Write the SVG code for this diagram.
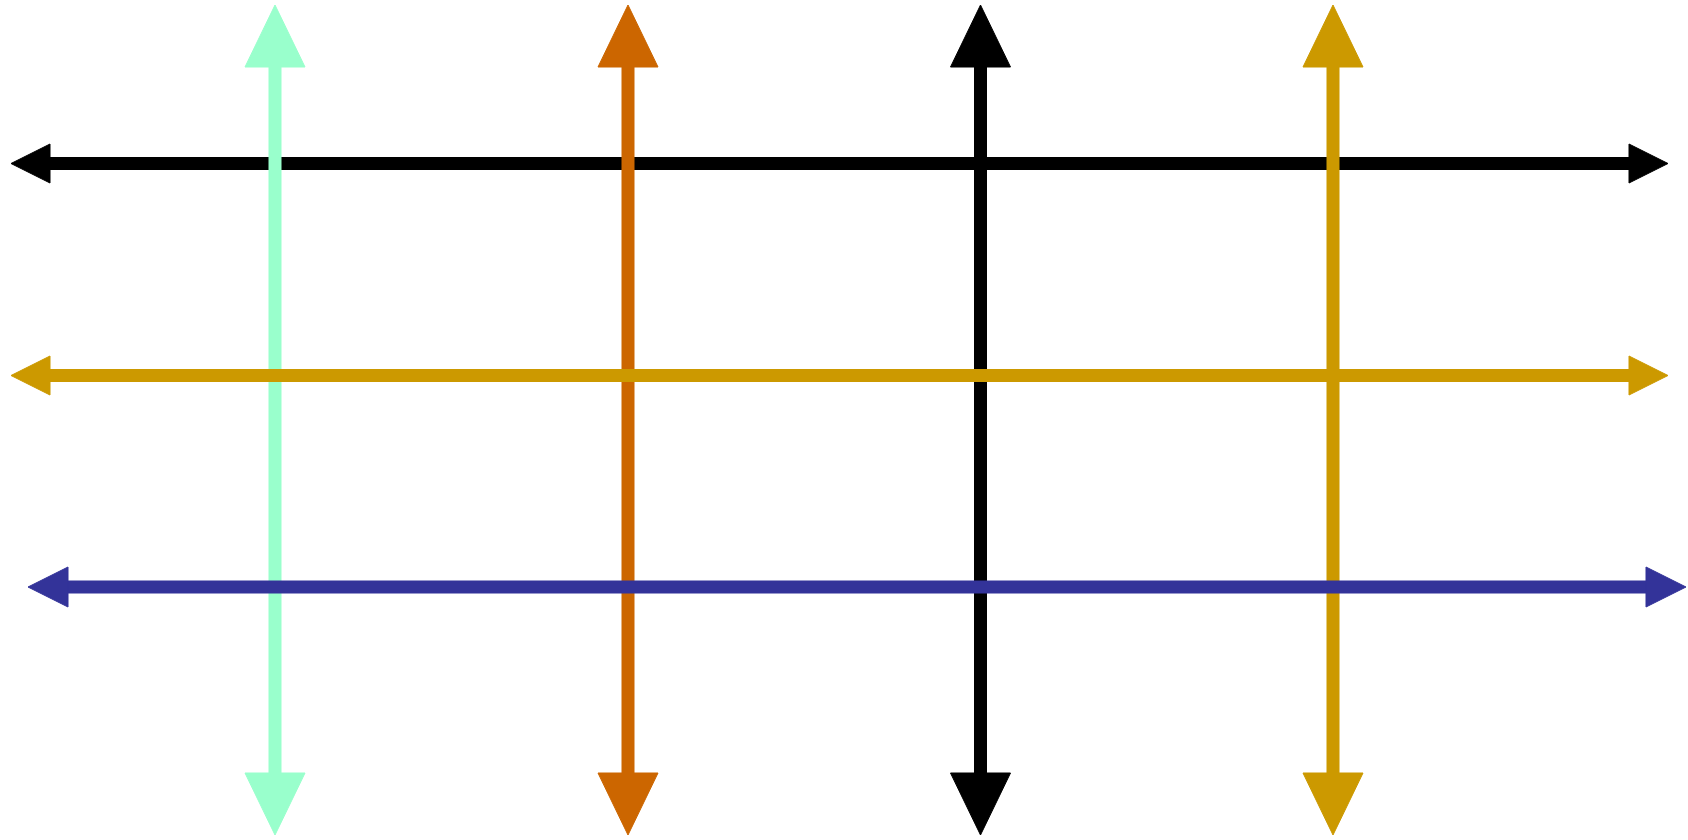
<svg xmlns="http://www.w3.org/2000/svg" width="1688" height="840" viewBox="0 0 1688 840">
<style>
.ln{stroke-width:13;fill:none}
.g{stroke:#99FFCC;fill:#99FFCC}
.o{stroke:#CC6600;fill:#CC6600}
.k{stroke:#000000;fill:#000000}
.y{stroke:#CC9900;fill:#CC9900}
.b{stroke:#333399;fill:#333399}
polygon{stroke:none}
</style>
<rect width="1688" height="840" fill="#ffffff"/>
<g id="connectors">
  <g id="h-black" class="k">
    <line class="ln k" x1="48" y1="163.5" x2="1631" y2="163.5"/>
    <polygon class="k" points="11,163.5 50,144 50,183"/>
    <polygon class="k" points="1668,163.5 1629,144 1629,183"/>
  </g>
  <g id="v-green">
    <line class="ln g" x1="275" y1="65" x2="275" y2="775"/>
    <polygon class="g" points="275,5 245,67 305,67"/>
    <polygon class="g" points="275,835 245,773 305,773"/>
  </g>
  <g id="v-orange">
    <line class="ln o" x1="628" y1="65" x2="628" y2="775"/>
    <polygon class="o" points="628,5 598,67 658,67"/>
    <polygon class="o" points="628,835 598,773 658,773"/>
  </g>
  <g id="v-black">
    <line class="ln k" x1="980.5" y1="65" x2="980.5" y2="775"/>
    <polygon class="k" points="980.5,5 950.5,67 1010.5,67"/>
    <polygon class="k" points="980.5,835 950.5,773 1010.5,773"/>
  </g>
  <g id="v-yellow">
    <line class="ln y" x1="1333" y1="65" x2="1333" y2="775"/>
    <polygon class="y" points="1333,5 1303,67 1363,67"/>
    <polygon class="y" points="1333,835 1303,773 1363,773"/>
  </g>
  <g id="h-yellow">
    <line class="ln y" x1="48" y1="375.5" x2="1631" y2="375.5"/>
    <polygon class="y" points="11,375.5 50,356 50,395"/>
    <polygon class="y" points="1668,375.5 1629,356 1629,395"/>
  </g>
  <g id="h-blue">
    <line class="ln b" x1="66" y1="587" x2="1648" y2="587"/>
    <polygon class="b" points="28,587 68,567 68,607"/>
    <polygon class="b" points="1686,587 1646,567 1646,607"/>
  </g>
</g>
</svg>
